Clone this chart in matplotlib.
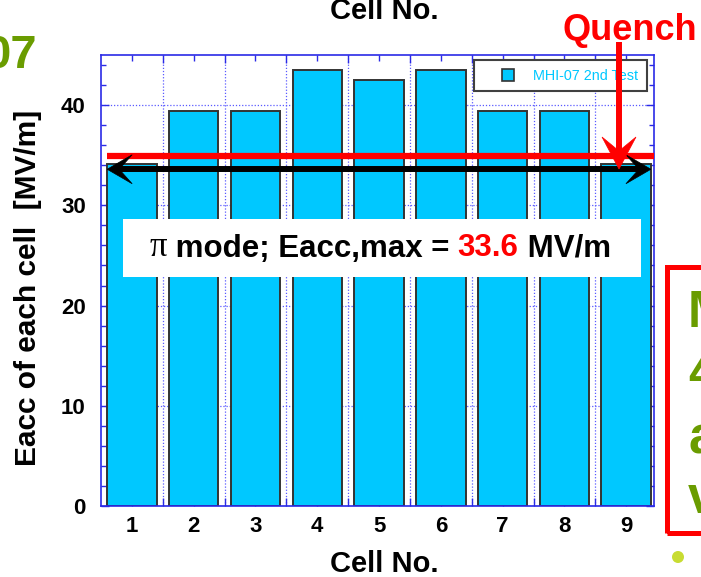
import matplotlib
matplotlib.use("Agg")
import numpy as np
import matplotlib.pyplot as plt
from matplotlib.transforms import IdentityTransform
from matplotlib.patches import Polygon, Rectangle, Circle
from matplotlib.lines import Line2D
from matplotlib.offsetbox import TextArea, HPacker, AnnotationBbox

# ---- data -------------------------------------------------------------
cells = [1, 2, 3, 4, 5, 6, 7, 8, 9]
eacc = [34.1, 39.4, 39.4, 43.5, 42.5, 43.5, 39.4, 39.4, 34.1]
series_label = "MHI-07 2nd Test"
eacc_max = 33.6          # pi-mode limit shown by the black arrow
quench_level = 34.9      # red quench line
x_label = "Cell No."
y_label = "Eacc of each cell  [MV/m]"
y_ticks = [0, 10, 20, 30, 40]

# ---- style ------------------------------------------------------------
W, H = 701, 577
BAR = "#00c8ff"
BLUE = "#2a2ae6"
GRID = "#5a5aff"
RED = "#ff0000"
GREEN = "#6a9c00"
SANS = "Liberation Sans"

fig = plt.figure(figsize=(W / 100, H / 100), dpi=100)
ax = fig.add_axes([101 / W, 1 - 506 / H, 553 / W, 451 / H])

bar_w = 0.8
ax.bar(cells, eacc, width=bar_w, color=BAR, edgecolor="#333333",
       linewidth=1.4, zorder=2, label=series_label)
ax.set_xlim(0.5, 9.45)
ax.set_ylim(0, 45)

ax.set_xticks(cells)
ax.set_xticks(np.arange(1.5, 9, 1.0), minor=True)
ax.set_yticks(y_ticks)
ax.set_yticks(np.arange(0, 45, 2), minor=True)
ax.set_axisbelow(True)
ax.grid(False)
ax.xaxis.grid(True, which="minor", color=GRID, linestyle=(0, (1, 1.5)), lw=0.9)
ax.yaxis.grid(True, which="major", color=GRID, linestyle=(0, (1, 1.5)), lw=0.9)

ax.tick_params(which="both", direction="in", top=True, right=True,
               color=BLUE, width=1.0)
ax.tick_params(axis="x", which="major", length=4.5, pad=7)
ax.tick_params(axis="x", which="minor", length=6)
ax.tick_params(axis="y", which="major", length=6, pad=11)
ax.tick_params(axis="y", which="minor", length=3.5)
for lbl in ax.get_xticklabels() + ax.get_yticklabels():
    lbl.set_fontfamily(SANS)
    lbl.set_fontweight("bold")
    lbl.set_fontsize(16)
for sp in ax.spines.values():
    sp.set_color(BLUE)
    sp.set_linewidth(1.2)

ax.set_xlabel(x_label, fontsize=21, fontweight="bold", family=SANS,
              va="center", ha="center")
ax.xaxis.set_label_coords((384 - 101) / 553, (506 - 564) / 451)
ax.set_ylabel(y_label, fontsize=21.5, fontweight="bold", family=SANS,
              va="center", ha="center")
ax.yaxis.set_label_coords((28 - 101) / 553, (506 - 288) / 451)

# legend: square marker with cyan label
handle = Line2D([], [], marker="s", markersize=8, linestyle="none",
                markerfacecolor=BAR, markeredgecolor="#333333",
                markeredgewidth=1.2)
leg = ax.legend([handle], [series_label], loc="upper left",
                bbox_to_anchor=(474 / W, 1 - 60 / H),
                bbox_transform=fig.transFigure, borderaxespad=0,
                fancybox=False, framealpha=1, edgecolor="#404040",
                handlelength=3.5, handletextpad=0.0, borderpad=0.6,
                prop={"family": SANS, "size": 10.4}, labelcolor=BAR)
leg.get_frame().set_linewidth(1.5)
leg.set_zorder(3)

# ---- annotations ------------------------------------------------------
ID = IdentityTransform()


def stealth(tip, direction, length, half_w, notch, color, z=6):
    d = np.asarray(direction, float)
    d /= np.linalg.norm(d)
    n = np.array([-d[1], d[0]])
    tip = np.asarray(tip, float)
    back = tip - d * length
    pts = [tip, back + n * half_w, tip - d * notch, back - n * half_w]
    fig.add_artist(Polygon(pts, closed=True, transform=ID, facecolor=color,
                           edgecolor=color, lw=0.5, zorder=z))
    return tip - d * notch


def pxl(x, y_top):
    return (x, H - y_top)


fig.canvas.draw()

# red quench level line
ax.plot([cells[0] - bar_w / 2, ax.get_xlim()[1]], [quench_level] * 2,
        color=RED, lw=4.5, solid_capstyle="butt", clip_on=False, zorder=6)

# black double arrow at Eacc,max
p_left = ax.transData.transform((cells[0] - bar_w / 2, eacc_max))
p_right = ax.transData.transform((cells[-1] + bar_w / 2, eacc_max))
a = stealth(p_left, (-1, 0), 25, 14.5, 12, "black")
b = stealth(p_right, (1, 0), 25, 14.5, 12, "black")
fig.add_artist(Line2D([a[0], b[0]], [a[1], b[1]], transform=ID,
                      color="black", lw=4.3, solid_capstyle="butt", zorder=6))

# quench arrow
qtip = np.array(pxl(619, 169))
qn = stealth(qtip, (0, -1), 32, 17, 18, RED, z=7)
q0 = pxl(619, 42)
fig.add_artist(Line2D([q0[0], qn[0]], [q0[1], qn[1]], transform=ID,
                      color=RED, lw=4.3, solid_capstyle="butt", zorder=7))
fig.text(630 / W, 1 - 40 / H, "Quench", color=RED, fontsize=26,
         fontweight="bold", family=SANS, ha="center", va="baseline")

# pi-mode label box
fig.add_artist(Rectangle(pxl(123, 277), 518, 58, transform=ID,
                         facecolor="white", edgecolor="none", zorder=8))
tp = dict(fontsize=22.5, fontweight="bold", family=SANS, color="black")
parts = [
    TextArea("\u03c0", textprops=dict(fontsize=25, family="Liberation Serif",
                                      color="black")),
    TextArea(" mode; Eacc,max = ", textprops=tp),
    TextArea(f"{eacc_max:.1f}", textprops=dict(tp, color=RED)),
    TextArea(" MV/m", textprops=tp),
]
pack = HPacker(children=parts, align="baseline", pad=0, sep=0)
ab = AnnotationBbox(pack, (380, H - 248), xycoords="figure pixels",
                    frameon=False, box_alignment=(0.5, 0.5), zorder=9)
fig.add_artist(ab)

# surrounding slide elements
fig.text(384 / W, 1 - 19 / H, x_label, fontsize=21, fontweight="bold",
         family=SANS, ha="center", va="baseline")
fig.text(37 / W, 1 - 68 / H, "07", fontsize=34, fontweight="bold",
         family=SANS, color=GREEN, ha="right", va="baseline")
fig.add_artist(Rectangle(pxl(667, 533), 80, 266, transform=ID,
                         facecolor="none", edgecolor=RED, lw=3.6, zorder=5))
for ch, base in zip(["M", "4", "a", "v"], [327, 388, 453, 513]):
    fig.text(688 / W, 1 - base / H, ch, fontsize=37, fontweight="bold",
             family=SANS, color=GREEN, ha="left", va="baseline")
fig.add_artist(Circle(pxl(678, 557), 6, transform=ID, facecolor="#c8dc32",
                      edgecolor="none", zorder=5))

fig.savefig("out.png", dpi=100)
